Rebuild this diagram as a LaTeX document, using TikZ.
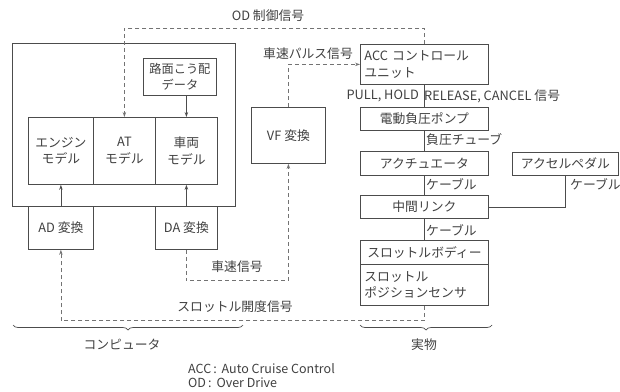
\documentclass[tikz,border=0pt]{standalone}
\usepackage{fontspec}
\setmainfont{Noto Sans CJK JP}
\usetikzlibrary{arrows.meta,decorations.pathreplacing}
\begin{document}
\begin{tikzpicture}[x=1pt,y=-1pt,
  every node/.style={font=\fontsize{12.8}{16.5}\selectfont, text=black!75, inner sep=1pt},
  box/.style={draw=black!70, line width=0.8pt, anchor=north west, align=center},
  ln/.style={draw=black!70, line width=0.8pt},
  arr/.style={ln, -{Stealth[length=5pt,width=3.5pt]}},
  dsh/.style={draw=black!55, line width=0.8pt, dash pattern=on 4pt off 3pt, -{Stealth[length=5pt,width=3.5pt]}},
  brc/.style={draw=black!70, line width=0.7pt, decorate, decoration={brace, mirror, amplitude=5pt}},
  note/.style={anchor=west, font=\fontsize{12.5}{14}\selectfont}
]
\useasboundingbox (0,0) rectangle (620,391);
% computer
\node[box, minimum width=223pt, minimum height=163pt] (comp) at (12,43) {};
\node[box, minimum width=73pt, minimum height=37pt, font=\fontsize{12.2}{16}\selectfont] (road) at (143,58) {路面こう配\\データ};
\node[box, minimum width=65pt, minimum height=67pt] (eng) at (28,117) {エンジン\\モデル};
\node[box, minimum width=62pt, minimum height=67pt] (atm) at (93,117) {AT\\モデル};
\node[box, minimum width=62pt, minimum height=67pt] (veh) at (155,117) {車両\\モデル};
\node[box, minimum width=65pt, minimum height=43pt] (ad) at (28,206) {AD 変換};
\node[box, minimum width=62pt, minimum height=43pt] (da) at (155,206) {DA 変換};
\node[box, minimum width=74pt, minimum height=56pt] (vf) at (251,107) {VF 変換};
% real
\node[box, minimum width=128pt, minimum height=40pt, text width=120pt, align=left] (acc) at (360,44) {ACC コントロール\\ユニット};
\node[box, minimum width=128pt, minimum height=23pt] (pump) at (360,107) {電動負圧ポンプ};
\node[box, minimum width=128pt, minimum height=24pt] (act) at (360,151) {アクチュエータ};
\node[box, minimum width=128pt, minimum height=23pt] (link) at (360,195) {中間リンク};
\node[box, minimum width=128pt, minimum height=24pt] (tb) at (360,240) {スロットルボディー};
\node[box, minimum width=128pt, minimum height=41pt, text width=120pt, align=left] (tps) at (360,264) {スロットル\\ポジションセンサ};
\node[box, minimum width=106pt, minimum height=23pt] (pedal) at (512,152) {アクセルペダル};
% solid connectors
\draw[arr] (road.south -| veh.north) -- (veh.north);
\draw[arr] (ad.north) -- (eng.south);
\draw[arr] (da.north) -- (veh.south);
\draw[ln] (acc.south) -- (pump.north);
\draw[ln] (pump.south) -- (act.north);
\draw[ln] (act.south) -- (link.north);
\draw[ln] (link.south) -- (tb.north);
\draw[ln] (pedal.south) |- (link.east);
% dashed signals
\draw[dsh] (acc.north) -- ++(0,-16) -| (atm.north);
\draw[dsh] (vf.north) |- (acc.west);
\draw[dsh] (da.south) -- ++(0,31) -| (vf.south);
\draw[dsh] (tps.south) -- ++(0,15) -| (ad.south);
% labels
\node (lod) at (268,16) {OD 制御信号};
\node (lpulse) at (308,54) {車速パルス信号};
\node[anchor=east] (lpull) at (420,96) {PULL, HOLD};
\node[anchor=west] (lrel) at (423,96) {RELEASE, CANCEL 信号};
\node[anchor=west] (ltube) at (425,140) {負圧チューブ};
\node[anchor=west] (lc1) at (425,184) {ケーブル};
\node[anchor=west] (lc2) at (425,230) {ケーブル};
\node[anchor=west] (lc3) at (569,184) {ケーブル};
\node (lspd) at (237,267) {車速信号};
\node (lthr) at (235,307) {スロットル開度信号};
% braces
\draw[brc] (13,325) -- (243,325);
\draw[brc] (360,325) -- (492,325);
\node (lcomp) at (122,345) {コンピュータ};
\node (lreal) at (424,345) {実物};
\node[note] (n1) at (187,369) {ACC\,:\, Auto Cruise Control};
\node[note] (n2) at (187,383) {OD\,:\, Over Drive};
\end{tikzpicture}
\end{document}
